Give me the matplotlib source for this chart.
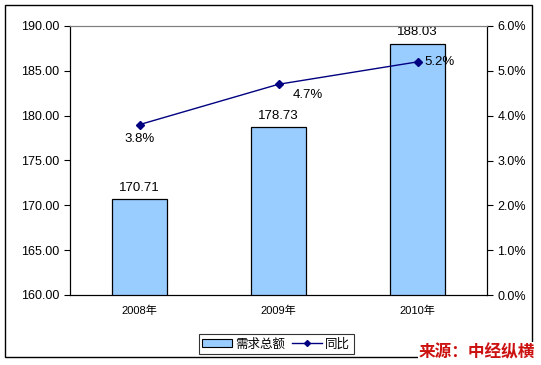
import matplotlib
matplotlib.use("Agg")
import matplotlib.pyplot as plt
from matplotlib.lines import Line2D
from matplotlib.patches import Rectangle

plt.rcParams['font.family'] = ['Liberation Sans', 'Noto Sans CJK SC']

years = ['2008年', '2009年', '2010年']
totals = [170.71, 178.73, 188.03]
growth = [3.8, 4.7, 5.2]
total_labels = ['170.71', '178.73', '188.03']
growth_labels = ['3.8%', '4.7%', '5.2%']

fig = plt.figure(figsize=(5.41, 3.65), dpi=100)
W, H = 541, 365
# outer frame
fig.patches.append(Rectangle((5 / W, 1 - 357 / H), 527 / W, 352 / H, transform=fig.transFigure,
                             fill=False, edgecolor='black', linewidth=1))

ax = fig.add_axes([70 / W, 1 - 295 / H, 417 / W, 269 / H])
x = range(len(years))
ax.bar(x, totals, width=0.4, color='#99CCFF', edgecolor='black', linewidth=0.9, zorder=2)
ax.set_ylim(160, 190)
ax.set_xlim(-0.5, 2.5)
ax.set_yticks([160, 165, 170, 175, 180, 185, 190])
ax.set_yticklabels(['%.2f' % v for v in ax.get_yticks()], fontsize=9)
ax.set_xticks(list(x))
ax.set_xticklabels(years, fontsize=8)
ax.tick_params(axis='x', length=0, pad=8)
ax.tick_params(axis='y', direction='out', length=4, width=0.8)
ax.spines['top'].set_color('#808080')
for i, v in enumerate(totals):
    ax.text(i, v + 0.6, total_labels[i], ha='center', va='bottom', fontsize=9.5)

ax2 = ax.twinx()
ax2.plot(x, growth, color='#000080', marker='D', markersize=4, linewidth=1, zorder=3)
ax2.set_ylim(0, 6)
ax2.set_yticks([0, 1, 2, 3, 4, 5, 6])
ax2.set_yticklabels(['%.1f%%' % v for v in range(7)], fontsize=9)
ax2.tick_params(axis='y', direction='out', length=4, width=0.8)
ax2.spines['top'].set_color('#808080')
offsets = [(0, -0.32, 'center'), (0.1, -0.25, 'left'), (0.05, 0, 'left')]
for i, v in enumerate(growth):
    dx, dy, ha = offsets[i]
    ax2.text(i + dx, v + dy, growth_labels[i], ha=ha, va='center', fontsize=9.5)

handles = [Rectangle((0, 0), 1, 1, facecolor='#99CCFF', edgecolor='black', linewidth=0.8),
           Line2D([], [], color='#000080', marker='D', markersize=3, linewidth=1)]
leg = fig.legend(handles, ['需求总额', '同比'], loc='center', bbox_to_anchor=(276 / W, 1 - 344 / H),
                 ncol=2, frameon=True, fancybox=False, edgecolor='black',
                 handlelength=2.4, handleheight=0.6, handletextpad=0.2, columnspacing=0.6,
                 borderpad=0.3, prop={'family': ['Noto Sans CJK SC'], 'size': 9})
leg.get_frame().set_linewidth(0.8)

fig.text(535 / W, 1 - 352 / H, '来源：中经纵横', ha='right', va='center', color='#CC1111',
         fontsize=12, fontweight='bold', style='italic', family=['Noto Sans CJK SC'],
         bbox=dict(facecolor='white', edgecolor='none', pad=0.5))

fig.savefig('out.png', dpi=100)
